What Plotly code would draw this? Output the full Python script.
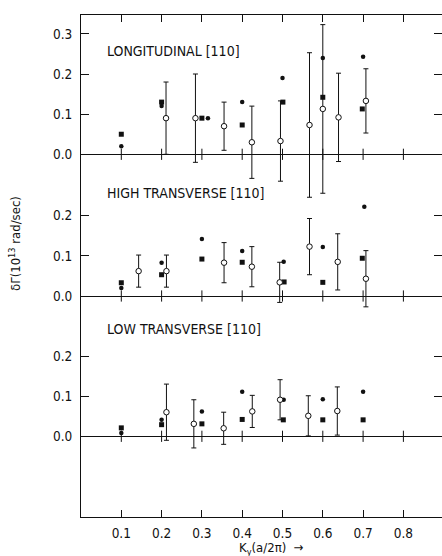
import plotly.graph_objects as go

# ---- data: damping shift versus reduced wave vector, three [110] branches ----
x_ticks = [0.1, 0.2, 0.3, 0.4, 0.5, 0.6, 0.7, 0.8]
x_tick_labels = ["0.1", "0.2", "0.3", "0.4", "0.5", "0.6", "0.7", "0.8"]

# Longitudinal [110]
long_dot_x = [0.1, 0.2, 0.315, 0.4, 0.5, 0.6, 0.7]
long_dot_y = [0.02, 0.12, 0.09, 0.13, 0.19, 0.24, 0.243]
long_sq_x = [0.1, 0.2, 0.3, 0.4, 0.501, 0.6, 0.698]
long_sq_y = [0.05, 0.13, 0.09, 0.073, 0.13, 0.142, 0.113]
long_open_x = [0.211, 0.284, 0.355, 0.424, 0.495, 0.567, 0.600, 0.639, 0.707]
long_open_y = [0.09, 0.09, 0.07, 0.03, 0.033, 0.073, 0.113, 0.092, 0.133]
long_open_err = [0.09, 0.11, 0.06, 0.09, 0.10, 0.18, 0.21, 0.11, 0.08]

# High transverse [110]
high_dot_x = [0.1, 0.2, 0.3, 0.4, 0.503, 0.6, 0.703]
high_dot_y = [0.02, 0.083, 0.142, 0.112, 0.085, 0.122, 0.222]
high_sq_x = [0.1, 0.2, 0.3, 0.4, 0.504, 0.6, 0.698]
high_sq_y = [0.033, 0.053, 0.092, 0.084, 0.035, 0.034, 0.094]
high_open_x = [0.143, 0.212, 0.355, 0.424, 0.493, 0.567, 0.637, 0.707]
high_open_y = [0.062, 0.062, 0.083, 0.073, 0.034, 0.123, 0.085, 0.043]
high_open_err = [0.04, 0.04, 0.05, 0.05, 0.05, 0.07, 0.07, 0.07]

# Low transverse [110]
low_dot_x = [0.1, 0.2, 0.3, 0.4, 0.503, 0.6, 0.7]
low_dot_y = [0.008, 0.041, 0.062, 0.111, 0.091, 0.092, 0.111]
low_sq_x = [0.1, 0.2, 0.3, 0.4, 0.502, 0.6, 0.7]
low_sq_y = [0.021, 0.029, 0.031, 0.042, 0.041, 0.041, 0.041]
low_open_x = [0.212, 0.280, 0.354, 0.425, 0.494, 0.564, 0.636]
low_open_y = [0.06, 0.031, 0.02, 0.062, 0.091, 0.051, 0.063]
low_open_err = [0.07, 0.06, 0.04, 0.04, 0.05, 0.05, 0.06]

panel_names = ["LONGITUDINAL [110]", "HIGH TRANSVERSE [110]", "LOW TRANSVERSE [110]"]
panel_ticks = [[0.0, 0.1, 0.2, 0.3], [0.0, 0.1, 0.2], [0.0, 0.1, 0.2]]

panels = [
    (long_dot_x, long_dot_y, long_sq_x, long_sq_y, long_open_x, long_open_y, long_open_err),
    (high_dot_x, high_dot_y, high_sq_x, high_sq_y, high_open_x, high_open_y, high_open_err),
    (low_dot_x, low_dot_y, low_sq_x, low_sq_y, low_open_x, low_open_y, low_open_err),
]

# ---- layout geometry ----
W, H = 442, 556
M_L, M_R, M_T, M_B = 81, 0, 15, 39
PX_PER_TENTH = 40.15              # vertical pixels per 0.1 unit
ZERO_PIX = [154.3, 296.0, 436.3]  # pixel row of each panel's zero line
X_MAX = 0.1 * (W - M_L) / 40.3

FONT = "Liberation Sans Narrow, DejaVu Sans Condensed, Arial Narrow, sans-serif"
INK = "#111111"


def panel_range(zero_pix):
    top = (zero_pix - M_T) * 0.1 / PX_PER_TENTH
    bottom = -((H - M_B) - zero_pix) * 0.1 / PX_PER_TENTH
    return [bottom, top]


fig = go.Figure()

for i, (dx, dy, sx, sy, ox, oy, oe) in enumerate(panels):
    yref = "y" if i == 0 else f"y{i + 1}"
    # cross-shaped tick marks along the zero line
    fig.add_trace(go.Scatter(
        x=x_ticks, y=[0] * len(x_ticks), yaxis=yref, mode="markers",
        marker=dict(symbol="line-ns", size=8, line=dict(width=1, color=INK)),
        hoverinfo="skip", showlegend=False))
    fig.add_trace(go.Scatter(
        x=dx, y=dy, yaxis=yref, mode="markers",
        marker=dict(symbol="circle", size=4.5, color=INK),
        showlegend=False))
    fig.add_trace(go.Scatter(
        x=sx, y=sy, yaxis=yref, mode="markers",
        marker=dict(symbol="square", size=5, color=INK),
        showlegend=False))
    fig.add_trace(go.Scatter(
        x=ox, y=oy, yaxis=yref, mode="markers",
        marker=dict(symbol="circle", size=5.5, color="white",
                    line=dict(width=1, color=INK)),
        error_y=dict(type="data", array=oe, visible=True, color=INK,
                     thickness=1, width=2.5),
        showlegend=False))

yaxis_common = dict(
    showgrid=False, showline=True, linecolor=INK, linewidth=1,
    mirror="ticks", ticks="inside", ticklen=8, tickwidth=1, tickcolor=INK,
    zeroline=True, zerolinecolor=INK, zerolinewidth=1, ticklabelstandoff=5,
    tickfont=dict(family=FONT, size=13.5, color=INK), fixedrange=True,
)

layout_axes = {}
for i in range(3):
    key = "yaxis" if i == 0 else f"yaxis{i + 1}"
    ax = dict(yaxis_common)
    ax.update(range=panel_range(ZERO_PIX[i]), tickvals=panel_ticks[i],
              ticktext=[f"{v:.1f}" for v in panel_ticks[i]])
    if i > 0:
        ax.update(overlaying="y")
    layout_axes[key] = ax

fig.update_layout(
    width=W, height=H,
    margin=dict(l=M_L, r=M_R, t=M_T, b=M_B, pad=0),
    paper_bgcolor="white", plot_bgcolor="white",
    font=dict(family=FONT, color=INK),
    xaxis=dict(range=[0, X_MAX], tickvals=x_ticks, ticktext=x_tick_labels,
               showgrid=False, zeroline=False, showline=True, linecolor=INK,
               linewidth=1, mirror="ticks", ticks="inside", ticklen=7,
               tickwidth=1, tickcolor=INK, ticklabelstandoff=4,
               tickfont=dict(family=FONT, size=13.5, color=INK), fixedrange=True),
    **layout_axes,
)

# panel titles
label_pix = [51, 193, 329]
for name, ypix in zip(panel_names, label_pix):
    fig.add_annotation(
        text=name, xref="paper", yref="paper",
        x=(105 - M_L) / (W - M_L - M_R), y=((H - M_B) - ypix) / (H - M_T - M_B),
        xanchor="left", yanchor="middle", showarrow=False,
        font=dict(family=FONT, size=14, color=INK))

# axis titles
fig.add_annotation(
    text="\u03b4\u0393(10<sup>13</sup> rad/sec)", xref="paper", yref="paper",
    x=(15 - M_L) / (W - M_L - M_R), y=((H - M_B) - 244) / (H - M_T - M_B),
    xanchor="center", yanchor="middle", textangle=-90, showarrow=False,
    font=dict(family=FONT, size=13, color=INK))
fig.add_annotation(
    text="K<sub>y</sub>(a/2\u03c0)  \u2192", xref="paper", yref="paper",
    x=(271 - M_L) / (W - M_L - M_R), y=-(548 - (H - M_B)) / (H - M_T - M_B),
    xanchor="center", yanchor="middle", showarrow=False,
    font=dict(family=FONT, size=13, color=INK))

fig.write_html("out.html")
